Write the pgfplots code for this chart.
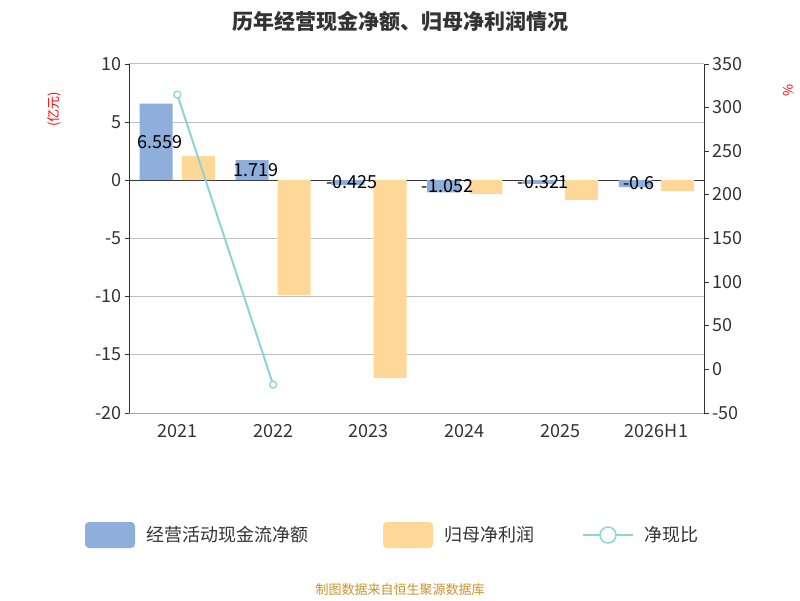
\documentclass[border=0pt]{standalone}
\usepackage{pgfplots}
\pgfplotsset{compat=1.18}
\usepackage{fontspec}
\setmainfont{Noto Sans CJK SC}
\definecolor{cblue}{HTML}{8EAEDC}
\definecolor{corange}{HTML}{FFD796}
\definecolor{cteal}{HTML}{8ED3D8}
\definecolor{ctick}{HTML}{333333}
\definecolor{cfoot}{HTML}{C8922A}
\begin{document}
\begin{tikzpicture}[x=1pt,y=1pt]
\path (0,0) rectangle (800,600);
\begin{axis}[name=A,at={(135,161)},anchor=south west,scale only axis,width=575pt,height=349pt,
  xmin=-0.5,xmax=5.5,ymin=-20,ymax=10,ytick={-20,-15,...,10},
  xtick={0,...,5},xticklabels={2021,2022,2023,2024,2025,2026H1},
  major x tick style={draw=none},
  axis x line*=bottom, axis y line*=left,
  x axis line style={draw=gray!70},
  y axis line style={draw=ctick},
  ymajorgrids, grid style={gray!50},
  tick align=outside, ytick style={ctick},
  ticklabel style={font=\fontsize{18}{18}\selectfont,color=ctick},
  /pgf/number format/assume math mode=true,
  xticklabel style={yshift=-4pt},
  ylabel={(亿元)},ylabel style={color=red,font=\fontsize{13}{13}\selectfont,at={(axis description cs:-0.13,0.87)},anchor=center},
  bar width=0.344, clip=false]
\draw[ctick] (axis cs:-0.5,0) -- (axis cs:5.5,0);
\addplot[ybar,bar shift=-0.22,fill=cblue,draw=none] coordinates {(0,6.559)(1,1.719)(2,-0.425)(3,-1.052)(4,-0.321)(5,-0.6)};
\addplot[ybar,bar shift=0.22,fill=corange,draw=none] coordinates {(0,2.06)(1,-9.9)(2,-17.0)(3,-1.2)(4,-1.7)(5,-0.95)};
\addplot[only marks,mark=none,nodes near coords,point meta=explicit symbolic,
  every node near coord/.append style={anchor=center,font=\fontsize{18}{18}\selectfont,color=black}]
  coordinates {(-0.18,3.28)[6.559] (0.82,0.86)[1.719] (1.82,-0.21)[-0.425] (2.82,-0.53)[-1.052] (3.82,-0.16)[-0.321] (4.82,-0.3)[-0.6]};
\end{axis}
\begin{axis}[at={(A.south west)},anchor=south west,scale only axis,width=575pt,height=349pt,
  xmin=-0.5,xmax=5.5,ymin=-50,ymax=350,ytick={-50,0,...,350},
  axis y line*=right, axis x line*=bottom, xtick=\empty, x axis line style={draw=none},
  y axis line style={draw=ctick}, tick align=outside, ytick style={ctick},
  ticklabel style={font=\fontsize{18}{18}\selectfont,color=ctick},
  /pgf/number format/assume math mode=true, clip=false]
\addplot[cteal,line width=2pt,mark=*,mark size=3.5pt,mark options={fill=white,line width=1.3pt}] coordinates {(0,314.5)(1,-17.9)};
\end{axis}
\node[rotate=-90,color=red,font=\fontsize{13}{13}\selectfont] at (788,510) {\%};
\node[font=\bfseries\fontsize{21}{21}\selectfont,color=ctick] at (400,578) {历年经营现金净额、归母净利润情况};
\fill[cblue,rounded corners=4pt] (85,52) rectangle (135,78);
\node[anchor=west,font=\fontsize{18}{18}\selectfont,color=ctick] at (143,65) {经营活动现金流净额};
\fill[corange,rounded corners=4pt] (383,52) rectangle (433,78);
\node[anchor=west,font=\fontsize{18}{18}\selectfont,color=ctick] at (441,65) {归母净利润};
\draw[cteal,line width=2pt] (583,65) -- (633,65);
\draw[cteal,line width=1.5pt,fill=white] (608,65) circle (8);
\node[anchor=west,font=\fontsize{18}{18}\selectfont,color=ctick] at (641,65) {净现比};
\node[font=\fontsize{13}{13}\selectfont,color=cfoot] at (400,10) {制图数据来自恒生聚源数据库};
\end{tikzpicture}
\end{document}
